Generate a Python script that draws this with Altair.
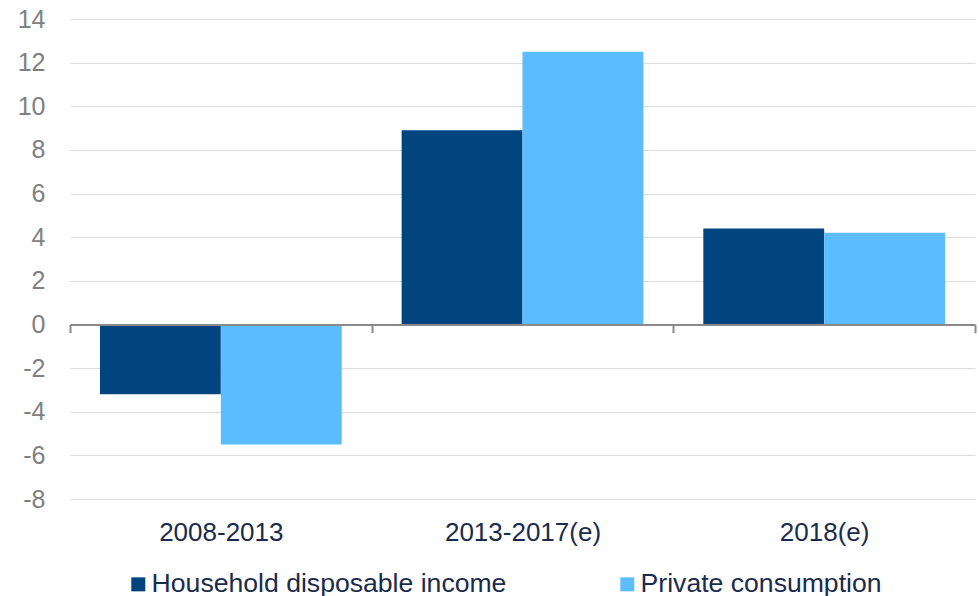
import altair as alt
import pandas as pd

periods = ["2008-2013", "2013-2017(e)", "2018(e)"]
series = ["Household disposable income", "Private consumption"]
household_income = [-3.2, 8.9, 4.4]
private_consumption = [-5.5, 12.5, 4.2]
colors = ["#004480", "#5bbcff"]
y_ticks = [-8, -6, -4, -2, 0, 2, 4, 6, 8, 10, 12, 14]

rows = []
for p, a, b in zip(periods, household_income, private_consumption):
    rows.append({"period": p, "series": series[0], "value": a})
    rows.append({"period": p, "series": series[1], "value": b})
df = pd.DataFrame(rows)

FONT = "Liberation Sans"

chart = alt.Chart(df).mark_bar().encode(
    x=alt.X(
        "period:N",
        sort=periods,
        scale=alt.Scale(paddingInner=0, paddingOuter=0),
        axis=alt.Axis(
            title=None,
            labelAngle=0,
            domain=True,
            domainColor="#8a8a8a",
            domainWidth=2,
            ticks=True,
            tickBand="extent",
            tickColor="#8a8a8a",
            tickWidth=2,
            tickSize=8,
            offset=-174.5,
            labelPadding=187,
            labelFontSize=26,
            labelFont=FONT,
            labelColor="#1a2b4c",
            grid=False,
            zindex=1,
        ),
    ),
    xOffset=alt.XOffset(
        "series:N",
        sort=series,
        scale=alt.Scale(paddingOuter=0.248, paddingInner=0),
    ),
    y=alt.Y(
        "value:Q",
        scale=alt.Scale(domain=[-8, 14], nice=False, zero=False),
        axis=alt.Axis(
            title=None,
            values=y_ticks,
            domain=False,
            ticks=False,
            labelExpr="toString(datum.value)",
            labelFontSize=25,
            labelFont=FONT,
            labelColor="#808080",
            labelPadding=25,
            gridColor="#dcdcdc",
            gridWidth=1.2,
        ),
    ),
    color=alt.Color(
        "series:N",
        sort=series,
        scale=alt.Scale(domain=series, range=colors),
        legend=alt.Legend(
            title=None,
            orient="none",
            legendX=55,
            legendY=552,
            direction="horizontal",
            columns=2,
            columnPadding=107,
            symbolType="square",
            symbolSize=196,
            symbolStrokeWidth=0,
            labelFontSize=26.6,
            labelFont=FONT,
            labelColor="#1a2b4c",
            labelOffset=0,
            padding=0,
            labelLimit=500,
        ),
    ),
).properties(
    width=905,
    height=480,
    autosize=alt.AutoSizeParams(type="none"),
    padding={"left": 70, "top": 19, "right": 4, "bottom": 97},
).configure(background="white").configure_view(stroke=None)

chart.save("out.html", embed_options={"renderer": "svg", "actions": False})
